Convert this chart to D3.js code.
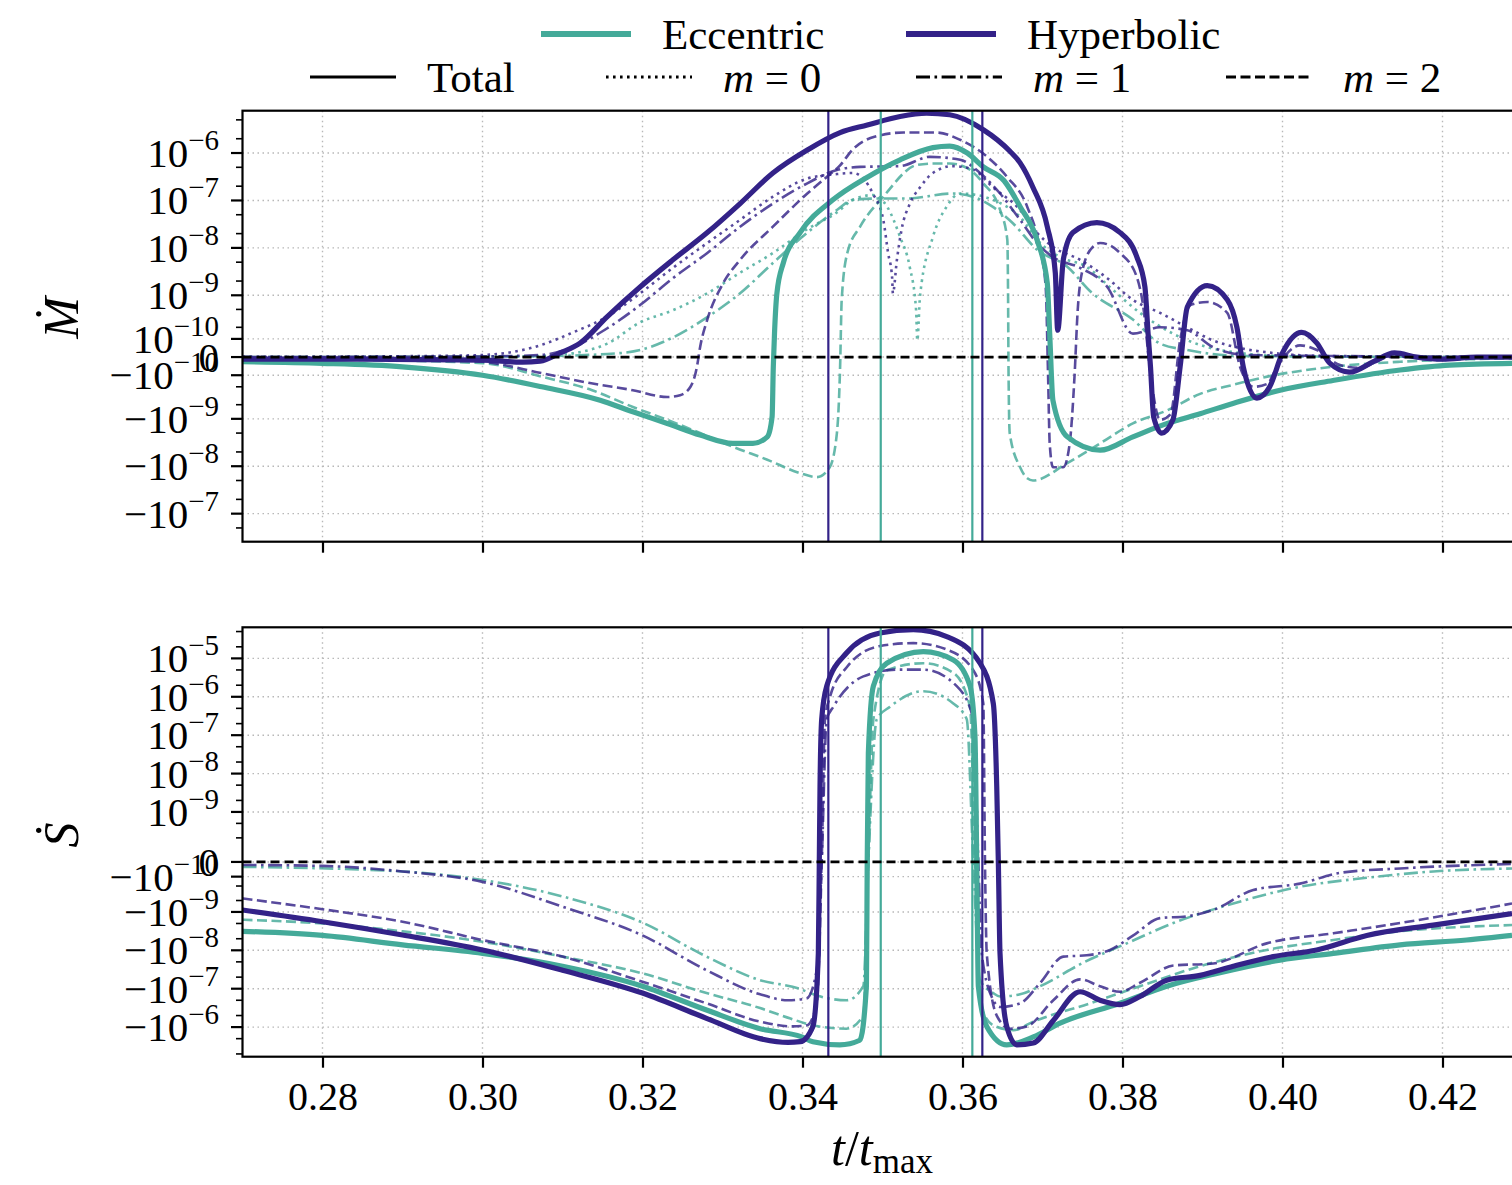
<!DOCTYPE html>
<html>
<head>
<meta charset="utf-8">
<script src="https://cdn.jsdelivr.net/npm/d3@7"></script>
<style>
	body { margin: 0; background: #fff; }
	svg text { font-family: "Liberation Serif", "DejaVu Serif", serif; fill: #000; }
</style>
</head>
<body>
<div id="chart"></div>
<script>
// ---- data (t/t_max, value) ----
const xlim = [0.27, 0.43];
const x_ticks = [0.28, 0.30, 0.32, 0.34, 0.36, 0.38, 0.40, 0.42];

const mdot_lim = [-3.9e-7, 7.8e-6];
const sdot_lim = [-5.9e-6, 6.45e-5];
const mdot_major = [1e-6, 1e-7, 1e-8, 1e-9, 1e-10, 0, -1e-10, -1e-9, -1e-8, -1e-7];
const sdot_major = [1e-5, 1e-6, 1e-7, 1e-8, 1e-9, 0, -1e-10, -1e-9, -1e-8, -1e-7, -1e-6];

const vlines_hyp = [0.34323, 0.36248];
const vlines_ecc = [0.34978, 0.36123];

// Mdot, hyperbolic
const mdot_hyp_total = [[0.270,-1e-11],[0.285,-1e-11],[0.300,-1.5e-11],[0.305,-2.5e-11],[0.3072,-2e-11],[0.3097,2e-11],[0.3122,7.3e-11],[0.3156,3.5e-10],[0.3197,1.5e-9],[0.3238,5.6e-9],[0.3281,2.1e-8],[0.3322,8.6e-8],[0.3363,3.8e-7],[0.3406,1.16e-6],[0.3447,2.7e-6],[0.3481,3.9e-6],[0.3522,5.9e-6],[0.3555,6.9e-6],[0.3584,6.4e-6],[0.3626,3.1e-6],[0.3659,1.1e-6],[0.3672,6.2e-7],[0.3688,1.9e-7],[0.3706,2.8e-8],[0.3716,3e-9],[0.3719,1.7e-10],[0.3726,5.6e-9],[0.3738,2.1e-8],[0.3768,3.4e-8],[0.3797,2.1e-8],[0.3818,6.4e-9],[0.3828,1.5e-9],[0.3832,1.4e-10],[0.3835,-5e-11],[0.3839,-9.2e-10],[0.3849,-2e-9],[0.3863,-1.05e-9],[0.3872,-5e-11],[0.3881,5.6e-10],[0.3906,1.6e-9],[0.3931,8e-10],[0.3943,2e-10],[0.3951,-5e-11],[0.3968,-3.6e-10],[0.3984,-2e-10],[0.4000,2e-11],[0.4024,1.5e-10],[0.4043,7.3e-11],[0.4059,-3e-11],[0.4084,-8e-11],[0.4113,-2.4e-11],[0.4140,2e-11],[0.4168,0],[0.4200,-1e-11],[0.4243,0],[0.4300,0]];
const mdot_hyp_m0 = [[0.270,1e-12],[0.290,4e-12],[0.300,1e-11],[0.3072,6e-11],[0.3113,1.5e-10],[0.3156,3.5e-10],[0.3197,1.1e-9],[0.3238,3.8e-9],[0.3281,1.27e-8],[0.3322,3.9e-8],[0.3363,1.2e-7],[0.3406,2.9e-7],[0.3443,3.6e-7],[0.3463,3.8e-7],[0.3476,2.9e-7],[0.3488,1.4e-7],[0.3501,3.9e-8],[0.3507,7.8e-9],[0.3512,2.4e-9],[0.3513,1.1e-9],[0.3518,5.6e-9],[0.3524,2.5e-8],[0.3534,8.4e-8],[0.3547,1.9e-7],[0.3563,3.8e-7],[0.3588,5.3e-7],[0.3613,4.5e-7],[0.3638,1.9e-7],[0.3672,6.3e-8],[0.3693,2.1e-8],[0.3713,1.05e-8],[0.3747,5.6e-9],[0.3781,2.3e-9],[0.3813,8e-10],[0.3847,4.2e-10],[0.3881,2e-10],[0.3913,9e-11],[0.3947,4.5e-11],[0.3988,2e-11],[0.4050,5e-12],[0.4300,0]];
const mdot_hyp_m1 = [[0.270,0],[0.300,3e-12],[0.3072,1e-11],[0.3113,5e-11],[0.3156,1.9e-10],[0.3197,6.2e-10],[0.3238,2.3e-9],[0.3281,7.8e-9],[0.3322,2.8e-8],[0.3363,8.6e-8],[0.3406,2.3e-7],[0.3443,4.4e-7],[0.3472,5.1e-7],[0.3522,5.3e-7],[0.3559,8.3e-7],[0.3597,7.2e-7],[0.3622,3.8e-7],[0.3647,1.4e-7],[0.3672,3.9e-8],[0.3693,1.27e-8],[0.3713,6.4e-9],[0.3747,3.8e-9],[0.3781,1.5e-9],[0.3813,1.4e-10],[0.3847,2e-10],[0.3881,1.7e-10],[0.3913,5e-11],[0.3955,1e-11],[0.4300,0]];
const mdot_hyp_m2 = [[0.270,0],[0.290,-6e-12],[0.300,-2.3e-11],[0.3074,-8.6e-11],[0.3136,-1.65e-10],[0.3188,-2.4e-10],[0.3231,-3.4e-10],[0.3247,-3.1e-10],[0.3260,-2e-10],[0.3268,-5e-11],[0.3272,5e-11],[0.3281,3e-10],[0.3300,1.7e-9],[0.3322,5.6e-9],[0.3363,2.8e-8],[0.3406,1.4e-7],[0.3430,3.1e-7],[0.3447,5.5e-7],[0.3463,1.2e-6],[0.3490,2.2e-6],[0.3526,2.7e-6],[0.3568,2.7e-6],[0.3597,1.9e-6],[0.3631,8.3e-7],[0.3656,3.1e-7],[0.3681,7.3e-8],[0.3697,9.2e-9],[0.3704,1.5e-9],[0.3707,-1.1e-10],[0.3709,-3.3e-9],[0.3713,-1.05e-8],[0.3726,-1.05e-8],[0.3734,-3.3e-9],[0.3740,-1.1e-10],[0.3744,4.8e-10],[0.3751,4e-9],[0.3763,1.05e-8],[0.3772,1.27e-8],[0.3797,7.8e-9],[0.3818,2.4e-9],[0.3826,5.6e-10],[0.3834,-5e-11],[0.3847,-1.05e-9],[0.3860,-8e-10],[0.3872,9e-11],[0.3885,6.2e-10],[0.3906,7.2e-10],[0.3931,4.2e-10],[0.3947,-5e-11],[0.3964,-2e-10],[0.3981,-1.7e-10],[0.3993,-5e-11],[0.4022,6e-11],[0.4043,3.5e-11],[0.4072,-4e-11],[0.4097,-5.5e-11],[0.4134,0],[0.4300,0]];

// Mdot, eccentric
const mdot_ecc_total = [[0.270,-2.3e-11],[0.280,-3.1e-11],[0.290,-4.9e-11],[0.300,-1e-10],[0.3074,-2e-10],[0.3147,-4e-10],[0.3188,-7.1e-10],[0.3231,-1.25e-9],[0.3272,-2.2e-9],[0.3313,-3.3e-9],[0.3338,-3.3e-9],[0.3356,-2.4e-9],[0.3362,-9e-10],[0.33635,-5e-11],[0.3365,1.4e-10],[0.3368,1.1e-9],[0.3376,4.8e-9],[0.3397,2.1e-8],[0.3438,1.03e-7],[0.3481,3.1e-7],[0.3522,7.2e-7],[0.3563,1.3e-6],[0.3584,1.4e-6],[0.3606,1e-6],[0.3626,5.1e-7],[0.3652,2.6e-7],[0.3672,7.4e-8],[0.3693,1.5e-8],[0.3706,1.8e-9],[0.3709,1.4e-10],[0.3713,-4e-10],[0.3731,-2.4e-9],[0.3772,-4.6e-9],[0.3813,-2.4e-9],[0.3856,-1.25e-9],[0.3897,-7.8e-10],[0.3938,-4.7e-10],[0.3997,-2.4e-10],[0.4063,-1.4e-10],[0.4147,-6.7e-11],[0.4209,-4e-11],[0.4300,-3e-11]];
const mdot_ecc_m0 = [[0.270,0],[0.300,2e-12],[0.3074,5e-12],[0.3113,1.8e-11],[0.3156,7e-11],[0.3197,2.6e-10],[0.3238,4.8e-10],[0.3281,1.1e-9],[0.3322,3e-9],[0.3363,7.8e-9],[0.3406,2.5e-8],[0.3443,5.6e-8],[0.3463,1.03e-7],[0.3488,1.3e-7],[0.3506,7.3e-8],[0.3522,1.7e-8],[0.3534,4e-9],[0.3542,4.8e-10],[0.35435,9e-11],[0.3547,1e-9],[0.3563,1.7e-8],[0.3580,7.3e-8],[0.3597,1.4e-7],[0.3618,1.3e-7],[0.3638,1.03e-7],[0.3672,4.5e-8],[0.3697,1.27e-8],[0.3722,6.4e-9],[0.3755,4e-9],[0.3784,1.5e-9],[0.3822,4.2e-10],[0.3863,1.4e-10],[0.3906,5e-11],[0.3947,2e-11],[0.4000,5e-12],[0.4300,0]];
const mdot_ecc_m1 = [[0.270,0],[0.305,3e-12],[0.3156,1.5e-11],[0.3197,3.5e-11],[0.3238,1.1e-10],[0.3281,3.4e-10],[0.3322,1.1e-9],[0.3363,4.8e-9],[0.3406,2.1e-8],[0.3443,6.3e-8],[0.3463,1.03e-7],[0.3497,1.1e-7],[0.3530,1.1e-7],[0.3588,1.4e-7],[0.3613,1.2e-7],[0.3638,7.3e-8],[0.3663,3.3e-8],[0.3693,9.2e-9],[0.3731,4e-9],[0.3760,1.2e-9],[0.3813,3e-10],[0.3847,7e-11],[0.3881,3.5e-11],[0.3950,5e-12],[0.4300,0]];
const mdot_ecc_m2 = [[0.270,-6e-12],[0.280,-1.1e-11],[0.300,-3e-11],[0.3074,-1.1e-10],[0.3137,-2.4e-10],[0.3188,-5.6e-10],[0.3231,-1.05e-9],[0.3272,-2e-9],[0.3313,-3.9e-9],[0.3356,-7.3e-9],[0.3397,-1.4e-8],[0.3418,-1.7e-8],[0.3434,-1.05e-8],[0.3443,-2e-9],[0.3447,-5e-11],[0.3449,8e-10],[0.3456,7.8e-9],[0.3472,2.8e-8],[0.3501,1.2e-7],[0.3543,5.6e-7],[0.3563,6e-7],[0.3584,6e-7],[0.3606,4.8e-7],[0.3626,2.3e-7],[0.3647,6.3e-8],[0.3656,1.5e-8],[0.3657,8e-10],[0.36575,-5e-11],[0.3659,-2e-9],[0.3672,-1.05e-8],[0.3681,-1.8e-8],[0.3688,-2e-8],[0.3731,-8.6e-9],[0.3772,-3.3e-9],[0.3813,-1.25e-9],[0.3856,-6.6e-10],[0.3897,-2.9e-10],[0.3938,-1.8e-10],[0.3981,-1.1e-10],[0.4063,-4.9e-11],[0.4147,-2.3e-11],[0.4231,-1.1e-11],[0.4300,-6e-12]];

// Sdot, hyperbolic
const sdot_hyp_total = [[0.270,-8.9e-10],[0.280,-1.8e-9],[0.290,-4e-9],[0.300,-9.8e-9],[0.310,-3.3e-8],[0.320,-1.3e-7],[0.328,-5.9e-7],[0.3347,-2e-6],[0.3382,-2.5e-6],[0.3397,-2.4e-6],[0.3413,-9.6e-7],[0.34198,-1.2e-8],[0.3421,0],[0.34219,4.6e-9],[0.3424,2.6e-7],[0.34303,1.9e-6],[0.34553,1.4e-5],[0.34969,4.6e-5],[0.35385,5.6e-5],[0.35803,3.7e-5],[0.36219,7.5e-6],[0.36385,6.7e-7],[0.36428,4.6e-9],[0.36448,0],[0.36469,-1.2e-8],[0.36553,-9.6e-7],[0.36678,-2.9e-6],[0.36885,-2.6e-6],[0.37135,-6.7e-7],[0.37469,-1.2e-7],[0.37719,-2e-7],[0.37969,-2.6e-7],[0.38219,-1.6e-7],[0.38553,-6e-8],[0.38969,-4.5e-8],[0.39385,-2.6e-8],[0.39885,-1.46e-8],[0.40428,-9.8e-9],[0.41053,-4.1e-9],[0.41885,-2.2e-9],[0.42869,-1.1e-9]];
const sdot_hyp_m1 = [[0.270,-1.8e-11],[0.280,-2.4e-11],[0.290,-6e-11],[0.300,-1.5e-10],[0.310,-7.3e-10],[0.320,-4.1e-9],[0.328,-3.3e-8],[0.3347,-1.4e-7],[0.3382,-2e-7],[0.3405,-1.8e-7],[0.34178,-3.3e-8],[0.3424,0],[0.34303,2.6e-7],[0.34386,5.5e-7],[0.34761,3.4e-6],[0.35178,5.1e-6],[0.35511,5.1e-6],[0.35928,1.9e-6],[0.36135,2.6e-7],[0.36198,0],[0.3624,-1.2e-8],[0.36385,-2e-7],[0.36469,-3e-7],[0.3672,-2.4e-7],[0.3697,-7.1e-8],[0.3726,-1.46e-8],[0.37553,-1.35e-8],[0.37844,-9.8e-9],[0.38135,-4.1e-9],[0.38469,-1.45e-9],[0.38803,-1.3e-9],[0.39135,-8.9e-10],[0.39635,-2.6e-10],[0.40219,-1.7e-10],[0.40719,-7e-11],[0.41469,-4e-11],[0.42869,-1.2e-11]];
const sdot_hyp_m2 = [[0.270,-4.4e-10],[0.280,-8.5e-10],[0.290,-1.8e-9],[0.300,-5.4e-9],[0.310,-1.46e-8],[0.320,-6.6e-8],[0.328,-2.4e-7],[0.3347,-7.2e-7],[0.3387,-9.6e-7],[0.34053,-9e-7],[0.34178,-2.4e-7],[0.3424,0],[0.34281,2.6e-7],[0.34344,1e-6],[0.34553,5.9e-6],[0.34969,2.1e-5],[0.35385,2.5e-5],[0.35803,1.7e-5],[0.36135,4.9e-6],[0.3626,6.7e-7],[0.36281,0],[0.36303,-1.2e-8],[0.36428,-5e-7],[0.36594,-1.1e-6],[0.36803,-9.6e-7],[0.37135,-2e-7],[0.37469,-5.7e-8],[0.37719,-8.6e-8],[0.37969,-1.2e-7],[0.38219,-7e-8],[0.38635,-2.5e-8],[0.39135,-2.2e-8],[0.39803,-6.6e-9],[0.40635,-3.6e-9],[0.41469,-1.95e-9],[0.42303,-9.8e-10],[0.42869,-6e-10]];

// Sdot, eccentric
const sdot_ecc_total = [[0.270,-3.2e-9],[0.280,-4.1e-9],[0.290,-7.2e-9],[0.300,-1.2e-8],[0.310,-2.6e-8],[0.320,-8.6e-8],[0.328,-3.6e-7],[0.3347,-1.1e-6],[0.3399,-1.8e-6],[0.3413,-2.4e-6],[0.34466,-2.9e-6],[0.34716,-2.2e-6],[0.34799,-8.6e-8],[0.34809,0],[0.34823,3.4e-8],[0.34886,1.9e-6],[0.35053,7.5e-6],[0.35511,1.5e-5],[0.35886,9.1e-6],[0.36094,1.9e-6],[0.36156,9.3e-8],[0.36178,0],[0.36198,-8.6e-8],[0.36303,-9.6e-7],[0.36553,-2.9e-6],[0.36885,-1.8e-6],[0.37219,-7.9e-7],[0.37969,-2.4e-7],[0.38553,-8.6e-8],[0.39178,-4e-8],[0.39969,-1.8e-8],[0.40636,-1.2e-8],[0.41469,-7.2e-9],[0.42303,-5.4e-9],[0.42869,-4.1e-9]];
const sdot_ecc_m1 = [[0.270,-3e-11],[0.290,-6e-11],[0.300,-1.3e-10],[0.310,-3.9e-10],[0.320,-1.9e-9],[0.328,-1.46e-8],[0.3347,-6e-8],[0.3396,-1e-7],[0.34135,-1.4e-7],[0.34553,-2e-7],[0.3476,-8.6e-8],[0.34823,0],[0.34928,2.6e-7],[0.35094,5.5e-7],[0.3551,1.4e-6],[0.35885,6.7e-7],[0.36053,2.6e-7],[0.36135,0],[0.36219,-6e-8],[0.36385,-1.3e-7],[0.36469,-1.6e-7],[0.3672,-1.4e-7],[0.3697,-8.6e-8],[0.3751,-2.1e-8],[0.38053,-6.6e-9],[0.38635,-1.95e-9],[0.39385,-6e-10],[0.40219,-2.1e-10],[0.41053,-1.1e-10],[0.41885,-6e-11],[0.42869,-4e-11]];
const sdot_ecc_m2 = [[0.270,-1.6e-9],[0.280,-2e-9],[0.290,-3.2e-9],[0.300,-6e-9],[0.310,-1.46e-8],[0.320,-4e-8],[0.328,-1.3e-7],[0.3347,-3.2e-7],[0.3385,-6e-7],[0.3413,-9e-7],[0.3455,-1.1e-6],[0.34761,-5e-7],[0.34823,0],[0.34886,2.6e-7],[0.35053,4.9e-6],[0.35511,7.5e-6],[0.35886,4.2e-6],[0.36094,5.5e-7],[0.36156,0],[0.36219,-2.4e-7],[0.36385,-9e-7],[0.36636,-1.2e-6],[0.36885,-7.2e-7],[0.37594,-2.4e-7],[0.38219,-8.6e-8],[0.38969,-2.6e-8],[0.39803,-9.8e-9],[0.40635,-5.4e-9],[0.41469,-3.2e-9],[0.42869,-2.2e-9]];

// ---- drawing ----
const ECC = "#44AA99";
const HYP = "#332288";
const LINW = 1e-10;   // asinh linear width
const dashes = { total: null, m0: "2.6,4.4", m1: "14,4.5,2.6,4.5", m2: "10,4.5" };

const svg = d3.select("#chart").append("svg")
	.attr("width", 1512).attr("height", 1185)
	.style("background", "#fff");

class Panel {

	constructor(name, y_top, y_bottom, ylim){
		this.name = name;
		this.y_top = y_top;
		this.y_bottom = y_bottom;
		this.x = d3.scaleLinear().domain(xlim).range([242.5, 1522.5]);
		this.y = d3.scaleLinear()
			.domain(ylim.map(v => Math.asinh(v / LINW)))
			.range([y_bottom, y_top]);
		this.ylim = ylim;

		svg.append("clipPath").attr("id", name + "clip")
			.append("rect")
			.attr("x", 242.5).attr("y", y_top).attr("width", 1280).attr("height", y_bottom - y_top);

		this.grid = svg.append("g");
		this.plot = svg.append("g").attr("clip-path", "url(#" + name + "clip)");
		this.axes = svg.append("g");
	}

	yv(v){
		return this.y(Math.asinh(v / LINW));
	}

	addGrid(majors){
		this.grid.selectAll(null).data(x_ticks).enter().append("line")
			.attr("x1", d => this.x(d)).attr("x2", d => this.x(d))
			.attr("y1", this.y_top).attr("y2", this.y_bottom);
		this.grid.selectAll(null).data(majors).enter().append("line")
			.attr("x1", 242.5).attr("x2", 1522.5)
			.attr("y1", d => this.yv(d)).attr("y2", d => this.yv(d));
		this.grid.selectAll("line")
			.attr("stroke", "#b8b8b8").attr("stroke-width", 1.4).attr("stroke-dasharray", "1.5,3.5");
	}

	addLine(data, color, kind){
		const line = d3.line()
			.x(d => this.x(d[0]))
			.y(d => this.yv(d[1]))
			.curve(d3.curveMonotoneX);
		const thick = kind == "total";
		this.plot.append("path")
			.attr("d", line(data))
			.attr("fill", "none")
			.attr("stroke", color)
			.attr("stroke-width", thick ? 5.2 : 2.6)
			.attr("stroke-opacity", thick ? 1 : 0.82)
			.attr("stroke-dasharray", dashes[kind]);
	}

	addVlines(ts, color){
		this.plot.selectAll(null).data(ts).enter().append("line")
			.attr("x1", d => this.x(d)).attr("x2", d => this.x(d))
			.attr("y1", this.y_top).attr("y2", this.y_bottom)
			.attr("stroke", color).attr("stroke-width", 2.2);
	}

	addZero(){
		this.plot.append("line")
			.attr("x1", 242.5).attr("x2", 1522.5)
			.attr("y1", this.yv(0)).attr("y2", this.yv(0))
			.attr("stroke", "#000").attr("stroke-width", 2.8).attr("stroke-dasharray", "9,5");
	}

	addAxes(majors, show_x, ylabel, ylabel_y){
		// spines
		this.axes.append("rect")
			.attr("x", 242.5).attr("y", this.y_top).attr("width", 1280).attr("height", this.y_bottom - this.y_top)
			.attr("fill", "none").attr("stroke", "#000").attr("stroke-width", 2.2);

		// x axis
		const xa = d3.axisBottom(this.x).tickValues(x_ticks).tickSize(11).tickPadding(14)
			.tickFormat(show_x ? d3.format(".2f") : "");
		const gx = this.axes.append("g").attr("transform", "translate(0," + this.y_bottom + ")").call(xa);
		gx.select(".domain").remove();
		gx.selectAll(".tick line").attr("stroke", "#000").attr("stroke-width", 2.2);
		gx.selectAll(".tick text").attr("font-size", 40).attr("font-family", "Liberation Serif, serif");

		// y minor ticks at 2x and 5x of each decade
		const minors = [];
		for (let k = -10; k <= -4; k++) {
			[2, 5].forEach(m => { minors.push(m * Math.pow(10, k)); minors.push(-m * Math.pow(10, k)); });
		}
		const inside = minors.filter(v => v > this.ylim[0] && v < this.ylim[1]);
		this.axes.selectAll(null).data(inside).enter().append("line")
			.attr("x1", 236).attr("x2", 242.5)
			.attr("y1", d => this.yv(d)).attr("y2", d => this.yv(d))
			.attr("stroke", "#000").attr("stroke-width", 1.6);

		this.axes.selectAll(null).data(majors).enter().append("line")
			.attr("x1", 231).attr("x2", 242.5)
			.attr("y1", d => this.yv(d)).attr("y2", d => this.yv(d))
			.attr("stroke", "#000").attr("stroke-width", 2.2);

		// y tick labels, 10^k in mathtext style
		majors.forEach(v => {
			const t = this.axes.append("text")
				.attr("x", 219).attr("y", this.yv(v) + 14)
				.attr("text-anchor", "end").attr("font-size", 41);
			if (v == 0) { t.text("0"); return; }
			const k = Math.round(Math.log10(Math.abs(v)));
			t.append("tspan").text((v < 0 ? "\u2212" : "") + "10");
			t.append("tspan").attr("dy", -17).attr("font-size", 29).text("\u2212" + Math.abs(k));
		});

		this.axes.append("text")
			.attr("transform", "translate(78," + ylabel_y + ") rotate(-90)")
			.attr("text-anchor", "middle").attr("font-size", 50).attr("font-style", "italic")
			.text(ylabel);
	}
}

// top panel: Mdot
const panel_m = new Panel("mdot", 110.7, 541.7, mdot_lim);
panel_m.addGrid(mdot_major);
panel_m.addLine(mdot_ecc_m0, ECC, "m0");
panel_m.addLine(mdot_ecc_m1, ECC, "m1");
panel_m.addLine(mdot_ecc_m2, ECC, "m2");
panel_m.addLine(mdot_hyp_m0, HYP, "m0");
panel_m.addLine(mdot_hyp_m1, HYP, "m1");
panel_m.addLine(mdot_hyp_m2, HYP, "m2");
panel_m.addLine(mdot_ecc_total, ECC, "total");
panel_m.addLine(mdot_hyp_total, HYP, "total");
panel_m.addVlines(vlines_hyp, HYP);
panel_m.addVlines(vlines_ecc, ECC);
panel_m.addZero();
panel_m.addAxes(mdot_major, false, "M\u0307", 318);

// bottom panel: Sdot
const panel_s = new Panel("sdot", 627.3, 1056.7, sdot_lim);
panel_s.addGrid(sdot_major);
panel_s.addLine(sdot_ecc_m1, ECC, "m1");
panel_s.addLine(sdot_ecc_m2, ECC, "m2");
panel_s.addLine(sdot_hyp_m1, HYP, "m1");
panel_s.addLine(sdot_hyp_m2, HYP, "m2");
panel_s.addLine(sdot_ecc_total, ECC, "total");
panel_s.addLine(sdot_hyp_total, HYP, "total");
panel_s.addVlines(vlines_hyp, HYP);
panel_s.addVlines(vlines_ecc, ECC);
panel_s.addZero();
panel_s.addAxes(sdot_major, true, "S\u0307", 835);

// x label
const xl = svg.append("text").attr("x", 882).attr("y", 1165)
	.attr("text-anchor", "middle").attr("font-size", 50);
xl.append("tspan").attr("font-style", "italic").text("t");
xl.append("tspan").text("/");
xl.append("tspan").attr("font-style", "italic").text("t");
xl.append("tspan").attr("dy", 8).attr("font-size", 35).text("max");

// legend
const leg = svg.append("g");
const row1 = [
	{ label: "Eccentric", color: ECC, x: 541 },
	{ label: "Hyperbolic", color: HYP, x: 906 }
];
row1.forEach(d => {
	leg.append("line").attr("x1", d.x).attr("x2", d.x + 90).attr("y1", 34).attr("y2", 34)
		.attr("stroke", d.color).attr("stroke-width", 5.8);
	leg.append("text").attr("x", d.x + 121).attr("y", 49).attr("font-size", 43).text(d.label);
});
const row2 = [
	{ kind: "total", x: 310, m: null },
	{ kind: "m0", x: 606, m: 0 },
	{ kind: "m1", x: 916, m: 1 },
	{ kind: "m2", x: 1226, m: 2 }
];
row2.forEach(d => {
	leg.append("line").attr("x1", d.x).attr("x2", d.x + 86).attr("y1", 77).attr("y2", 77)
		.attr("stroke", "#000").attr("stroke-width", 3).attr("stroke-dasharray", dashes[d.kind]);
	const t = leg.append("text").attr("x", d.x + 117).attr("y", 92).attr("font-size", 43);
	if (d.m === null) { t.text("Total"); return; }
	t.append("tspan").attr("font-style", "italic").text("m");
	t.append("tspan").text(" = " + d.m);
});
</script>
</body>
</html>
